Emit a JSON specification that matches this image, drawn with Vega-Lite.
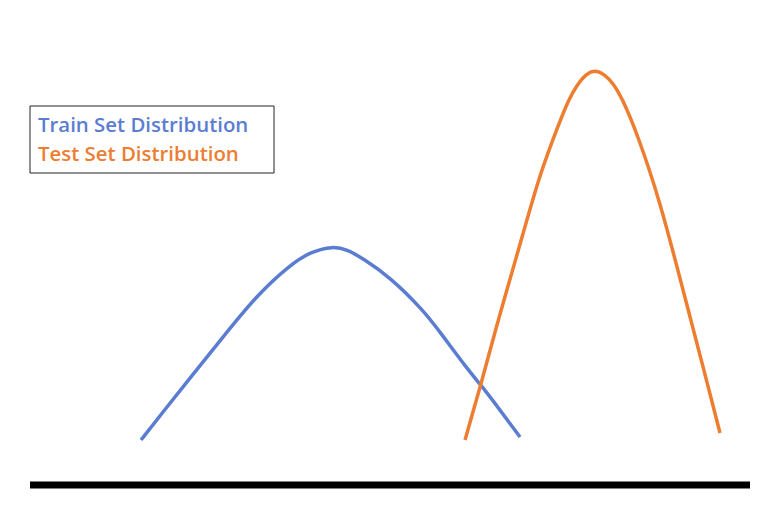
{
  "$schema": "https://vega.github.io/schema/vega-lite/v6.json",
  "width": 782,
  "height": 531,
  "autosize": {"type": "fit", "contains": "padding"},
  "padding": 0,
  "background": "white",
  "config": {"view": {"stroke": null}},
  "datasets": {
    "curves": [
      {"series": "Train", "x": 141, "y": 91},
      {"series": "Train", "x": 163, "y": 119},
      {"series": "Train", "x": 190, "y": 153},
      {"series": "Train", "x": 223, "y": 194},
      {"series": "Train", "x": 257, "y": 236},
      {"series": "Train", "x": 290, "y": 266},
      {"series": "Train", "x": 310, "y": 279},
      {"series": "Train", "x": 333, "y": 285},
      {"series": "Train", "x": 348, "y": 281},
      {"series": "Train", "x": 362, "y": 273},
      {"series": "Train", "x": 390, "y": 254},
      {"series": "Train", "x": 423, "y": 221},
      {"series": "Train", "x": 440, "y": 199},
      {"series": "Train", "x": 468, "y": 161},
      {"series": "Train", "x": 481, "y": 146},
      {"series": "Train", "x": 500, "y": 121},
      {"series": "Train", "x": 520, "y": 94},
      {"series": "Test", "x": 465, "y": 91},
      {"series": "Test", "x": 480, "y": 143},
      {"series": "Test", "x": 500, "y": 218},
      {"series": "Test", "x": 520, "y": 286},
      {"series": "Test", "x": 540, "y": 358},
      {"series": "Test", "x": 560, "y": 410},
      {"series": "Test", "x": 568, "y": 430},
      {"series": "Test", "x": 577, "y": 446},
      {"series": "Test", "x": 586, "y": 457},
      {"series": "Test", "x": 595, "y": 461},
      {"series": "Test", "x": 604, "y": 457},
      {"series": "Test", "x": 613, "y": 448},
      {"series": "Test", "x": 622, "y": 433},
      {"series": "Test", "x": 637, "y": 398},
      {"series": "Test", "x": 660, "y": 330},
      {"series": "Test", "x": 683, "y": 241},
      {"series": "Test", "x": 707, "y": 149},
      {"series": "Test", "x": 720, "y": 98}
    ],
    "baseline": [{"x": 30, "x2": 750, "y": 46}],
    "box": [{"x": 30, "x2": 274, "y": 425, "y2": 358}],
    "labels": [
      {"series": "Train", "label": "Train Set Distribution", "x": 38, "y": 405},
      {"series": "Test", "label": "Test Set Distribution", "x": 38, "y": 376}
    ]
  },
  "layer": [
    {
      "data": {"name": "box"},
      "mark": {"type": "rect", "fill": "white", "stroke": "#222222", "strokeWidth": 1},
      "encoding": {
        "x": {"field": "x", "type": "quantitative", "scale": {"domain": [0, 782], "nice": false, "zero": false}, "axis": null},
        "x2": {"field": "x2"},
        "y": {"field": "y", "type": "quantitative", "scale": {"domain": [0, 531], "nice": false, "zero": false}, "axis": null},
        "y2": {"field": "y2"}
      }
    },
    {
      "data": {"name": "labels"},
      "mark": {"type": "text", "align": "left", "baseline": "middle", "font": "Open Sans", "fontWeight": 600, "fontSize": 20.4},
      "encoding": {
        "x": {"field": "x", "type": "quantitative", "scale": {"domain": [0, 782], "nice": false, "zero": false}, "axis": null},
        "y": {"field": "y", "type": "quantitative", "scale": {"domain": [0, 531], "nice": false, "zero": false}, "axis": null},
        "text": {"field": "label"},
        "color": {"field": "series", "type": "nominal", "scale": {"domain": ["Train", "Test"], "range": ["#5B7DD1", "#ED7D31"]}, "legend": null}
      }
    },
    {
      "data": {"name": "curves"},
      "mark": {"type": "line", "interpolate": "basis", "strokeWidth": 3.5, "strokeCap": "butt"},
      "encoding": {
        "x": {"field": "x", "type": "quantitative", "scale": {"domain": [0, 782], "nice": false, "zero": false}, "axis": null},
        "y": {"field": "y", "type": "quantitative", "scale": {"domain": [0, 531], "nice": false, "zero": false}, "axis": null},
        "color": {"field": "series", "type": "nominal", "scale": {"domain": ["Train", "Test"], "range": ["#5B7DD1", "#ED7D31"]}, "legend": null},
        "detail": {"field": "series"}
      }
    },
    {
      "data": {"name": "baseline"},
      "mark": {"type": "rule", "color": "black", "strokeWidth": 7},
      "encoding": {
        "x": {"field": "x", "type": "quantitative", "scale": {"domain": [0, 782], "nice": false, "zero": false}, "axis": null},
        "x2": {"field": "x2"},
        "y": {"field": "y", "type": "quantitative", "scale": {"domain": [0, 531], "nice": false, "zero": false}, "axis": null}
      }
    }
  ]
}
